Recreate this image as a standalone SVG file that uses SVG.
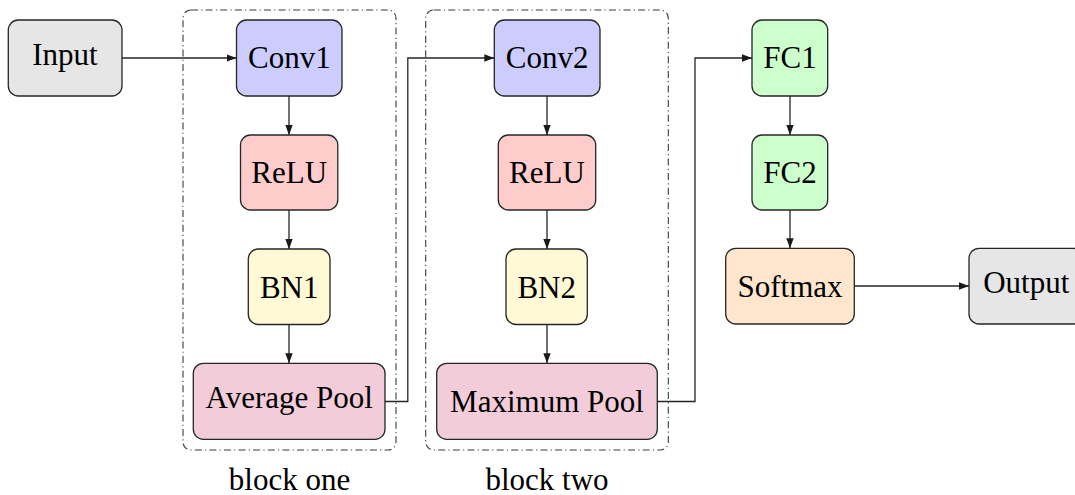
<svg xmlns="http://www.w3.org/2000/svg" width="1075" height="495" viewBox="0 0 1075 495">
  <style>
    .node { stroke: #262626; stroke-width: 1.3; }
    .lbl { font-family: "Liberation Serif", "Times New Roman", serif; font-size: 31px; fill: #000; text-anchor: middle; }
    .grp { fill: none; stroke: #3a3a3a; stroke-width: 1.1; stroke-dasharray: 7 3.2 1.2 3.2; }
    .edge { fill: none; stroke: #262626; stroke-width: 1.3; marker-end: url(#tip); }
    .gray { fill: #e6e6e6; }
    .blue { fill: #ccccff; }
    .red { fill: #ffcccc; }
    .yellow { fill: #fff9d6; }
    .pink { fill: #f2ccd9; }
    .green { fill: #ccffcc; }
    .orange { fill: #ffe6cc; }
  </style>
  <defs>
    <marker id="tip" markerUnits="userSpaceOnUse" markerWidth="12" markerHeight="10" viewBox="0 0 12 10" refX="10" refY="5" orient="auto">
      <path d="M0,1.3 L10,5 L0,8.7 Z" fill="#1a1a1a"/>
    </marker>
  </defs>

  <rect width="1075" height="495" fill="#ffffff"/>

  <!-- grouping frames -->
  <g id="block-one">
    <rect class="grp" x="183" y="10" width="213" height="440" rx="8"/>
    <text class="lbl" x="289.5" y="490">block one</text>
  </g>
  <g id="block-two">
    <rect class="grp" x="425.7" y="10" width="242.6" height="440" rx="8"/>
    <text class="lbl" x="547" y="490">block two</text>
  </g>

  <!-- connectors -->
  <g id="connectors">
    <path class="edge" d="M122,58 H236.5"/>
    <path class="edge" d="M289,96 V135"/>
    <path class="edge" d="M289,210 V249"/>
    <path class="edge" d="M289,324.5 V363.3"/>
    <path class="edge" d="M385,401.5 H407.8 V58 H494.3"/>
    <path class="edge" d="M547,96 V135"/>
    <path class="edge" d="M547,210 V249"/>
    <path class="edge" d="M547,324.5 V363.3"/>
    <path class="edge" d="M657.3,401.5 H695 V58 H752"/>
    <path class="edge" d="M790,96 V135"/>
    <path class="edge" d="M790,210 V248.3"/>
    <path class="edge" d="M854.3,286 H969"/>
  </g>

  <!-- nodes -->
  <g id="input">
    <rect class="node gray" x="8.3" y="20" width="113.7" height="76" rx="10"/>
    <text class="lbl" x="65" y="65">Input</text>
  </g>
  <g id="conv1">
    <rect class="node blue" x="236.5" y="20" width="105.5" height="76" rx="10"/>
    <text class="lbl" x="289.3" y="68.3">Conv1</text>
  </g>
  <g id="relu1">
    <rect class="node red" x="240.5" y="135" width="97.3" height="75" rx="10"/>
    <text class="lbl" x="289.2" y="183">ReLU</text>
  </g>
  <g id="bn1">
    <rect class="node yellow" x="248.3" y="249" width="81.7" height="75.5" rx="10"/>
    <text class="lbl" x="289.2" y="297.8">BN1</text>
  </g>
  <g id="avgpool">
    <rect class="node pink" x="193.3" y="363.3" width="191.7" height="76" rx="10"/>
    <text class="lbl" x="289.2" y="408.3">Average Pool</text>
  </g>
  <g id="conv2">
    <rect class="node blue" x="494.3" y="20" width="105.7" height="76" rx="10"/>
    <text class="lbl" x="547.2" y="68.3">Conv2</text>
  </g>
  <g id="relu2">
    <rect class="node red" x="498.3" y="135" width="97.4" height="75" rx="10"/>
    <text class="lbl" x="547" y="183">ReLU</text>
  </g>
  <g id="bn2">
    <rect class="node yellow" x="506" y="249" width="81.3" height="75.5" rx="10"/>
    <text class="lbl" x="546.7" y="297.8">BN2</text>
  </g>
  <g id="maxpool">
    <rect class="node pink" x="436.7" y="363.3" width="220.6" height="76" rx="10"/>
    <text class="lbl" x="547" y="411.7">Maximum Pool</text>
  </g>
  <g id="fc1">
    <rect class="node green" x="752" y="20" width="75.7" height="76" rx="10"/>
    <text class="lbl" x="790" y="68.3">FC1</text>
  </g>
  <g id="fc2">
    <rect class="node green" x="752" y="135" width="75.7" height="75" rx="10"/>
    <text class="lbl" x="790" y="183">FC2</text>
  </g>
  <g id="softmax">
    <rect class="node orange" x="725.7" y="248.3" width="128.6" height="75.7" rx="10"/>
    <text class="lbl" x="790" y="296.7">Softmax</text>
  </g>
  <g id="output">
    <rect class="node gray" x="969" y="248.3" width="114" height="75.7" rx="10"/>
    <text class="lbl" x="1026.3" y="293.3">Output</text>
  </g>
</svg>
